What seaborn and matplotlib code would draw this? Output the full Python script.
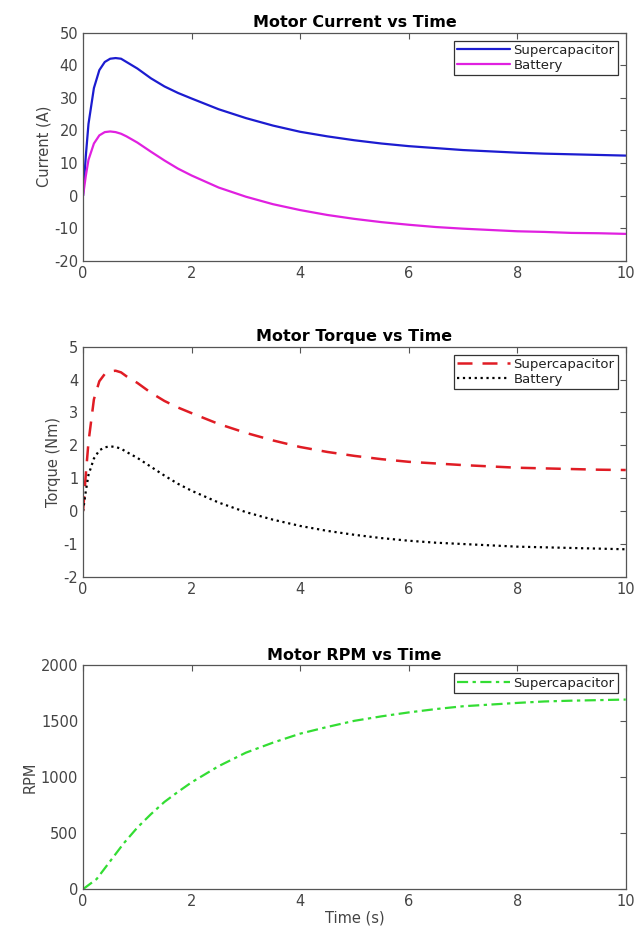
import pandas as pd
import matplotlib
matplotlib.use("Agg")
import matplotlib.pyplot as plt
import seaborn as sns

# time samples (s)
t = [0, 0.05, 0.1, 0.2, 0.3, 0.4, 0.5, 0.6, 0.7, 0.8, 1.0, 1.25, 1.5, 1.75, 2.0,
     2.5, 3.0, 3.5, 4.0, 4.5, 5.0, 5.5, 6.0, 6.5, 7.0, 7.5, 8.0, 8.5, 9.0, 9.5, 10.0]

# motor current (A)
cur_sc = [0, 12, 22, 33, 38.5, 41, 42, 42.2, 42, 41, 39, 36, 33.5, 31.5, 29.8,
          26.5, 23.8, 21.5, 19.6, 18.2, 17, 16, 15.2, 14.6, 14.0, 13.6, 13.2, 12.9, 12.7, 12.5, 12.3]
cur_bat = [0, 6, 11, 16, 18.5, 19.5, 19.7, 19.5, 19, 18.2, 16.3, 13.5, 10.8, 8.3, 6.2,
           2.5, -0.3, -2.6, -4.4, -5.9, -7.1, -8.1, -8.9, -9.6, -10.1, -10.5, -10.9, -11.1, -11.4, -11.5, -11.7]

# motor torque (Nm)
trq_sc = [0, 1.1, 2.1, 3.4, 3.95, 4.17, 4.25, 4.27, 4.22, 4.1, 3.9, 3.6, 3.35, 3.15, 2.98,
          2.65, 2.38, 2.15, 1.95, 1.8, 1.68, 1.58, 1.5, 1.45, 1.4, 1.36, 1.32, 1.3, 1.28, 1.26, 1.25]
trq_bat = [0, 0.6, 1.1, 1.6, 1.85, 1.94, 1.97, 1.95, 1.9, 1.8, 1.62, 1.35, 1.08, 0.83, 0.62,
           0.26, -0.03, -0.26, -0.45, -0.6, -0.72, -0.82, -0.9, -0.96, -1.0, -1.04, -1.08, -1.1, -1.12, -1.14, -1.16]

# motor speed (RPM)
t_rpm = [0, 0.25, 0.5, 0.75, 1.0, 1.25, 1.5, 1.75, 2.0, 2.5, 3.0, 3.5, 4.0, 4.5, 5.0,
         5.5, 6.0, 6.5, 7.0, 7.5, 8.0, 8.5, 9.0, 9.5, 10.0]
rpm_sc = [0, 90, 250, 410, 550, 670, 780, 870, 955, 1100, 1220, 1310, 1390, 1450, 1505,
          1545, 1580, 1610, 1635, 1650, 1665, 1678, 1685, 1690, 1695]

sns.set_style("white")
plt.rcParams["font.family"] = ["DejaVu Sans"]
plt.rcParams["axes.unicode_minus"] = False

fig = plt.figure(figsize=(6.34, 9.32), dpi=100)
ax1 = fig.add_axes([0.131, 0.720, 0.856, 0.245])
ax2 = fig.add_axes([0.131, 0.381, 0.856, 0.247])
ax3 = fig.add_axes([0.131, 0.046, 0.856, 0.240])

sns.lineplot(x=t, y=cur_sc, ax=ax1, color="#1c1cd0", lw=1.6, label="Supercapacitor")
sns.lineplot(x=t, y=cur_bat, ax=ax1, color="#e020e0", lw=1.6, label="Battery")

sns.lineplot(x=t, y=trq_sc, ax=ax2, color="#e01c24", lw=1.8, label="Supercapacitor")
ax2.lines[-1].set_dashes([6, 4])
sns.lineplot(x=t, y=trq_bat, ax=ax2, color="black", lw=1.6, label="Battery")
ax2.lines[-1].set_linestyle(":")

sns.lineplot(x=t_rpm, y=rpm_sc, ax=ax3, color="#33dd33", lw=1.6, label="Supercapacitor")
ax3.lines[-1].set_dashes([5, 2, 1.5, 2])

setup = [
    (ax1, "Motor Current vs Time", "Current (A)", (-20, 50), range(-20, 51, 10)),
    (ax2, "Motor Torque vs Time", "Torque (Nm)", (-2, 5), range(-2, 6, 1)),
    (ax3, "Motor RPM vs Time", "RPM", (0, 2000), range(0, 2001, 500)),
]
for ax, title, ylab, ylim, yt in setup:
    ax.set_xlim(0, 10)
    ax.set_ylim(*ylim)
    ax.set_xticks(range(0, 11, 2))
    ax.set_yticks(list(yt))
    ax.set_title(title, fontsize=11.5, fontweight="bold", color="black", pad=4)
    ax.set_ylabel(ylab, fontsize=10.5, color="#444444", labelpad=2)
    ax.tick_params(direction="in", top=True, right=True, length=4, width=0.8,
                   labelsize=10.5, labelcolor="#444444", color="#555555")
    for s in ax.spines.values():
        s.set_color("#555555")
        s.set_linewidth(0.9)
    leg = ax.legend(loc="upper right", fontsize=9.5, frameon=True, fancybox=False,
                    edgecolor="black", handlelength=4, handletextpad=0.3,
                    borderpad=0.25, labelspacing=0.15, borderaxespad=0.6)
    leg.get_frame().set_linewidth(0.9)
    for txt in leg.get_texts():
        txt.set_color("#222222")

ax3.set_xlabel("Time (s)", fontsize=10.5, color="#444444", labelpad=1)

fig.savefig("out.png", dpi=100)
